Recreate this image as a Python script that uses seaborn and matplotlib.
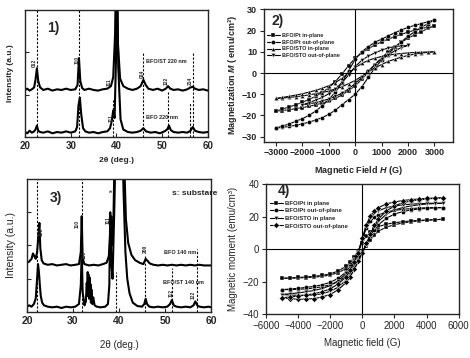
import matplotlib
matplotlib.use("Agg")
import matplotlib.pyplot as plt
import seaborn as sns
import pandas as pd

# ---------------- data: XRD (intensity in a.u., 0-100 scale) ----------------
tt_1_top = [20, 20.5, 21, 21.5, 22, 22.3, 22.6, 22.9, 23.3, 24, 25, 26, 27, 28, 29, 30, 31, 31.5, 31.8, 32.1,
            32.5, 33, 34, 35, 36, 37, 38, 38.8, 39.3, 39.7, 40.0, 40.3, 40.8, 41.5, 42.5, 43.5, 44.5, 45.3, 45.9, 46.4,
            47, 48, 49, 50, 50.8, 51.3, 51.8, 52.5, 53.5, 54.5, 55.5, 56.2, 56.7, 57.2, 58, 59, 60]
int_1_top = [37, 38, 36.5, 37.5, 39, 45, 54, 44, 39, 37, 38, 36.5, 37.5, 37, 38, 37, 37.5, 41, 62, 44,
             38.5, 37, 38, 37, 36.5, 37.5, 38, 40, 47, 80, 150, 75, 46, 40, 38, 37, 38, 40, 45, 41,
             38, 37, 38, 36.5, 38, 40, 38, 37, 37.5, 36.5, 37.5, 39, 39.5, 38, 37, 37.5, 36.5]

tt_1_bot = [20, 20.5, 21, 21.5, 22, 22.3, 22.6, 22.9, 23.3, 24, 25, 26, 27, 28, 29, 30, 31, 31.4, 31.7, 32.0,
            32.3, 32.7, 33.2, 34, 35, 36, 37, 38, 38.6, 39.0, 39.3, 39.6, 39.9, 40.1, 40.4, 40.9, 41.5, 42.5, 43.5, 44.5,
            45.3, 45.9, 46.5, 47.5, 48.5, 49.5, 50.5, 51.1, 51.5, 51.9, 52.5, 53.5, 54.5, 55.5, 56.2, 56.7, 57.2, 58, 59, 60]
int_1_bot = [4, 3, 5, 3.5, 4.5, 6, 9, 5, 4, 3.5, 4.5, 3, 4, 3.5, 4.5, 3.5, 4.5, 8, 25, 31,
             18, 7, 4.5, 3.5, 4, 3, 4, 4.5, 7, 13, 21, 15, 60, 150, 55, 14, 6, 4, 3.5, 4,
             5, 7, 4.5, 3.5, 4, 3, 4.5, 6, 9, 5.5, 4, 3.5, 4, 3.5, 5, 8, 5, 4, 3.5, 4]

tt_3_top = [20, 20.5, 21, 21.3, 21.6, 21.9, 22.2, 22.5, 22.7, 22.9, 23.2, 23.6, 24.5, 25.5, 26.5, 27.5, 28.5, 29.5,
            30.5, 31.3, 31.7, 31.9, 32.1, 32.5, 33.5, 34.5, 35.5, 36.5, 37.3, 37.8, 38.1, 38.3, 38.5, 38.8, 39.2,
            39.6, 40.0, 40.5, 41.0, 41.5, 42.0, 42.7, 43.5, 44.5, 45.3, 45.8, 46.2, 46.7, 47.5, 48.5, 49.5, 50.5,
            51.5, 52.5, 53.5, 54.5, 55.5, 56.5, 57.5, 58.5, 60]
int_3_top = [37, 38, 40, 44, 42, 40, 45, 58, 67, 48, 39, 36.5, 35.5, 36, 35, 35.5, 36, 35,
             35.5, 36, 45, 72, 40, 36, 35, 35.5, 35, 36, 37, 42, 60, 72, 50, 70, 150,
             150, 150, 150, 130, 70, 52, 43, 39, 37, 36, 40, 38.5, 36.5, 35.5, 35, 35.5, 35,
             35.5, 35, 35.5, 35, 35.5, 35, 35.5, 35, 35]

tt_3_bot = [20, 20.5, 21, 21.5, 21.9, 22.2, 22.4, 22.6, 22.8, 23.0, 23.3, 23.7, 24.5, 25.5, 26.5, 27.5, 28.5,
            29.5, 30.5, 31.3, 31.7, 31.9, 32.1, 32.5, 32.8, 33.0, 33.1, 33.2, 33.3, 33.4, 33.5, 33.6, 33.7, 33.8,
            33.9, 34.0, 34.2, 34.4, 34.7, 35.2, 36, 37, 37.6, 37.9, 38.1, 38.3, 38.6, 39.0, 39.4, 39.8, 40.2, 40.6,
            41.0, 41.4, 41.8, 42.3, 43, 44, 45, 45.5, 45.8, 46.1, 46.6, 47.5, 48.5, 49.5, 50.5, 51.1, 51.5, 51.9,
            52.5, 53.5, 54.5, 55.5, 56.2, 56.6, 57.0, 57.5, 58.5, 59.5, 60]
int_3_bot = [4, 5, 4, 6, 10, 25, 36, 30, 20, 12, 7, 5, 4, 3.5, 4, 3, 4,
             3.5, 4, 6, 20, 45, 15, 5, 8, 22, 12, 30, 14, 28, 10, 26, 11, 21,
             7, 17, 6, 11, 5, 4, 3.5, 4, 6, 20, 75, 40, 25, 80, 150, 150, 150, 150,
             90, 45, 25, 14, 7, 4.5, 4, 6, 10, 6, 4, 3.5, 4, 3.5, 4, 6, 9, 5,
             4, 3.5, 4, 3.5, 5, 8, 5, 4, 3.5, 4, 3.5]

peaks_1 = [22.6, 31.9, 39.3, 45.8, 51.3, 56.2, 56.8]
peaks_3 = [22.2, 31.9, 39.3, 45.7, 51.5, 57.0]

# ---------------- data: M-H loops ----------------
H_2 = [-3000, -2750, -2500, -2250, -2000, -1750, -1500, -1250, -1000, -750, -500, -250, 0,
       250, 500, 750, 1000, 1250, 1500, 1750, 2000, 2250, 2500, 2750, 3000]
H_2_short = [-2000, -1750, -1500, -1250, -1000, -750, -500, -250, 0, 250, 500, 750, 1000, 1250, 1500, 1750, 2000]

pt_in_2_low = [-18, -17.7, -17.3, -16.8, -16.3, -15.7, -15, -14.2, -13.2, -12, -10.3, -8.3, -6,
               -3, 0.5, 4, 7.2, 10, 12.5, 14.5, 16.5, 18, 19.5, 21, 22]
pt_in_2_up = [-18, -17, -16, -15, -13.8, -12.5, -11, -9.2, -7, -4, -0.5, 3.5, 7,
              9.5, 11.5, 13.2, 14.7, 16, 17.2, 18.3, 19.3, 20.2, 21, 21.6, 22]
pt_out_2_low = [-26, -25.6, -25.2, -24.6, -24, -23.2, -22.2, -21, -19.5, -17.5, -15, -12.5, -10,
                -6.5, -2, 2.5, 6, 9, 12, 14.8, 17.3, 19.5, 21.5, 23.3, 25]
pt_out_2_up = [-26, -25, -24, -22.8, -21.5, -20, -18, -15.5, -12.5, -9, -4.5, 1, 6.5,
               10, 12.5, 14.5, 16, 17.5, 19, 20.3, 21.5, 22.5, 23.3, 24.2, 25]
sto_in_2_low = [-12, -11.8, -11.5, -11.2, -10.8, -10.3, -9.8, -9.2, -8.5, -7.5, -6.5, -5, -3.5,
                -1.5, 0.5, 2.5, 4, 5.5, 6.5, 7.5, 8.3, 8.9, 9.4, 9.8, 10]
sto_in_2_up = [-12, -11.5, -11, -10.4, -9.8, -9, -8.2, -7.2, -6, -4.5, -2.5, 0, 2.5,
               4.5, 6, 7, 7.8, 8.4, 8.9, 9.2, 9.5, 9.7, 9.8, 9.9, 10]
sto_out_2_low = [-15, -14.5, -14, -13.2, -12.2, -11, -9.5, -7.5, -5, -2, 1, 4, 6.5, 8.5, 10.5, 12, 13]
sto_out_2_up = [-15, -14, -12.8, -11.5, -9.8, -7.5, -4.5, -1, 3, 6, 8, 9.5, 10.8, 11.8, 12.5, 12.8, 13]

H_4 = [-5000, -4500, -4000, -3500, -3000, -2500, -2000, -1500, -1000, -750, -500, -250, 0,
       250, 500, 750, 1000, 1500, 2000, 2500, 3000, 3500, 4000, 4500, 5000]
pt_in_4_low = [-18, -18, -17.8, -17.6, -17.3, -16.8, -16, -14.5, -12, -10, -7.5, -4.5, -1.5,
               2, 5.5, 8.5, 11, 13.5, 15, 16, 16.8, 17.3, 17.7, 18, 18.3]
pt_in_4_up = [-18, -17.8, -17.5, -17.2, -16.8, -16.2, -15.3, -13.5, -10.5, -8, -5, -1, 4,
              8, 10.5, 12.5, 13.8, 15.3, 16.2, 16.8, 17.3, 17.6, 17.9, 18.1, 18.3]
pt_out_4_low = [-25, -25, -24.8, -24.5, -24, -23.2, -22, -20, -16.5, -13.5, -10, -6, -2,
                3, 8, 12, 15, 19, 21.5, 23, 24, 24.6, 25, 25.3, 25.5]
pt_out_4_up = [-25, -24.6, -24.2, -23.6, -23, -22, -20.5, -18, -14, -10.5, -6, -1, 6,
               13, 17, 19.5, 21, 22.8, 23.8, 24.4, 24.9, 25.2, 25.4, 25.5, 25.5]
sto_in_4_low = [-28, -28.3, -28.5, -28.5, -28.3, -27.5, -26, -23.5, -19, -15.5, -11, -6.5, -2,
                3, 8.5, 13.5, 17, 21.5, 24, 25.5, 26.5, 27.2, 27.7, 28, 28.2]
sto_in_4_up = [-28, -27.5, -27, -26.3, -25.5, -24.3, -22.5, -19.5, -15, -11.5, -7, -2, 6,
               14, 19, 22, 23.5, 25.5, 26.5, 27.2, 27.6, 27.9, 28.1, 28.2, 28.2]
sto_out_4_low = [-30, -30.5, -31, -30.8, -30.5, -29.5, -28, -25, -20.5, -17, -12.5, -7.5, -2.5,
                 3.5, 9, 14.5, 18.5, 23.5, 26.5, 28.5, 29.5, 30.3, 30.8, 31.2, 31.5]
sto_out_4_up = [-30, -29.5, -29, -28.3, -27.5, -26.3, -24.5, -21.5, -17, -13, -8, -2.5, 7,
                15, 20.5, 23.5, 25.5, 27.8, 29, 29.8, 30.4, 30.8, 31.2, 31.4, 31.5]

names_2 = ["BFO/Pt in-plane", "BFO/Pt out-of-plane", "BFO/STO in-plane", "BFO/STO out-of-plane"]
names_4 = ["BFO/Pt in plane", "BFO/Pt out-of-plane", "BFO/STO in plane", "BFO/STO out-of-plane"]


def loop_frame(names, loops):
    rows = []
    for name, (H, low, up) in zip(names, loops):
        for h, m in zip(H, low):
            rows.append((name, "low", h, m))
        for h, m in zip(H[::-1], up[::-1]):
            rows.append((name, "up", h, m))
    return pd.DataFrame(rows, columns=["sample", "branch", "H", "M"])


df2 = loop_frame(names_2, [(H_2, pt_in_2_low, pt_in_2_up), (H_2, pt_out_2_low, pt_out_2_up),
                           (H_2, sto_in_2_low, sto_in_2_up), (H_2_short, sto_out_2_low, sto_out_2_up)])
df4 = loop_frame(names_4, [(H_4, pt_in_4_low, pt_in_4_up), (H_4, pt_out_4_low, pt_out_4_up),
                           (H_4, sto_in_4_low, sto_in_4_up), (H_4, sto_out_4_low, sto_out_4_up)])

# ---------------- style ----------------
sns.set_style("ticks")
plt.rcParams["font.family"] = ["Liberation Sans", "DejaVu Sans"]
plt.rcParams["mathtext.fontset"] = "custom"
plt.rcParams["mathtext.it"] = "Liberation Sans:bold:italic"
plt.rcParams["axes.linewidth"] = 1.0

fig = plt.figure(figsize=(4.7, 3.58), dpi=100)
ax1 = fig.add_axes([0.0532, 0.617, 0.389, 0.356])
ax2 = fig.add_axes([0.5617, 0.6047, 0.402, 0.369])
ax3 = fig.add_axes([0.0574, 0.1285, 0.3915, 0.3715])
ax4 = fig.add_axes([0.566, 0.1229, 0.410, 0.363])


def bold_ticks(ax):
    for lbl in ax.get_xticklabels() + ax.get_yticklabels():
        lbl.set_fontweight("bold")


# ---- 1) XRD 220 nm ----
sns.lineplot(x=tt_1_top, y=int_1_top, ax=ax1, color="black", lw=1.5, estimator=None, sort=False)
sns.lineplot(x=tt_1_bot, y=int_1_bot, ax=ax1, color="black", lw=1.5, estimator=None, sort=False)
for x, top in zip(peaks_1, [1, 1, 0.29, 0.67, 0.36, 0.27, 0.67]):
    ax1.axvline(x, 0, top, color="black", ls=(0, (2, 1.5)), lw=0.8)
ax1.set_xlim(20, 60)
ax1.set_ylim(0, 100)
ax1.set_xticks([20, 30, 40, 50, 60])
ax1.set_yticks([33.3, 66.7])
ax1.set_yticklabels([])
ax1.tick_params(direction="in", length=3, labelsize=7, pad=3)
bold_ticks(ax1)
ax1.set_xlabel("2θ (deg.)", fontsize=6, fontweight="bold", labelpad=4)
ax1.set_ylabel("Intensity (a.u.)", fontsize=6, fontweight="bold", labelpad=5)
ax1.text(26.3, 86, "1)", fontsize=10, fontweight="bold", ha="center", va="center")
ax1.text(46.4, 59, "BFO/ST 220 nm", fontsize=4, fontweight="bold", va="center")
ax1.text(46.5, 15, "BFO 220 nm", fontsize=4, fontweight="bold", va="center")
for x, y, s in [(22.1, 55, "012"), (31.5, 57, "110"), (38.4, 40, "111"), (45.6, 46, "024"),
                (51.0, 41, "122"), (56.2, 41, "214"), (38.9, 12, "111")]:
    ax1.text(x, y, s, fontsize=3.5, fontweight="bold", rotation=90, ha="center", va="bottom")

# ---- 2) M-H loops ----
markers_2 = dict(zip(names_2, ["s", "o", "^", "v"]))
sns.lineplot(data=df2, x="H", y="M", hue="sample", style="sample", units="branch", estimator=None,
             sort=False, palette=["black"] * 4, markers=markers_2, dashes=False, ax=ax2,
             lw=0.8, markersize=3, markeredgewidth=0.3, markeredgecolor="white")
ax2.axhline(0, color="black", lw=0.8)
ax2.axvline(0, color="black", lw=0.8)
ax2.set_xlim(-3450, 3700)
ax2.set_ylim(-32.3, 30)
ax2.set_xticks([-3000, -2000, -1000, 0, 1000, 2000, 3000])
ax2.set_yticks([-30, -20, -10, 0, 10, 20, 30])
ax2.tick_params(direction="out", length=3, labelsize=6.5, pad=2)
bold_ticks(ax2)
ax2.set_xlabel("Magnetic Field $H$ (G)", fontsize=6.5, fontweight="bold", labelpad=5)
ax2.set_ylabel("Magnetization $M$ ( emu/cm³)", fontsize=6.5, fontweight="bold", labelpad=2)
ax2.text(-3150, 24.5, "2)", fontsize=10, fontweight="bold", ha="left", va="center")
h, l = ax2.get_legend_handles_labels()
keep = [i for i, s in enumerate(l) if s in names_2]
ax2.legend([h[i] for i in keep], [l[i] for i in keep], loc="upper left", bbox_to_anchor=(0.0, 0.85),
           frameon=False, prop={"size": 4, "weight": "bold"}, handlelength=2.2, labelspacing=0.35,
           borderaxespad=0.2, handletextpad=0.4)

# ---- 3) XRD 140 nm ----
sns.lineplot(x=tt_3_top, y=int_3_top, ax=ax3, color="black", lw=1.5, estimator=None, sort=False)
sns.lineplot(x=tt_3_bot, y=int_3_bot, ax=ax3, color="black", lw=1.5, estimator=None, sort=False)
for x, top in zip(peaks_3, [1, 1, 0.3, 0.42, 0.33, 0.47]):
    ax3.axvline(x, 0, top, color="black", ls=(0, (2, 1.5)), lw=0.8)
ax3.set_xlim(20, 60)
ax3.set_ylim(0, 100)
ax3.set_xticks([20, 30, 40, 50, 60])
ax3.set_yticks([25, 50, 75])
ax3.set_yticklabels([])
ax3.tick_params(direction="in", length=3, labelsize=7.5, pad=3)
bold_ticks(ax3)
ax3.set_xlabel("2θ (deg.)", fontsize=7, labelpad=10)
ax3.set_ylabel("Intensity (a.u.)", fontsize=7.5, labelpad=5)
ax3.text(26.3, 86, "3)", fontsize=10, fontweight="bold", ha="center", va="center")
ax3.text(51.5, 89, "s: substare", fontsize=6, fontweight="bold", va="center")
ax3.text(49.8, 45, "BFO 140 nm", fontsize=4, fontweight="bold", va="center")
ax3.text(49.6, 22, "BFO/ST 140 nm", fontsize=4, fontweight="bold", va="center")
for x, y, s in [(23.1, 57, "100"), (30.9, 63, "110"), (37.6, 66, "111"), (38.3, 90, "s"),
                (45.7, 44, "200"), (32.5, 40, "110"), (33.6, 27, "s"), (51.3, 11, "112"), (56.2, 10, "122")]:
    ax3.text(x, y, s, fontsize=3.5, fontweight="bold", rotation=90, ha="center", va="bottom")

# ---- 4) M-H loops ----
markers_4 = dict(zip(names_4, ["s", "o", "v", "D"]))
sns.lineplot(data=df4, x="H", y="M", hue="sample", style="sample", units="branch", estimator=None,
             sort=False, palette=["black"] * 4, markers=markers_4, dashes=False, ax=ax4,
             lw=0.8, markersize=3, markeredgewidth=0.3, markeredgecolor="white")
ax4.axhline(0, color="black", lw=0.8)
ax4.axvline(0, color="black", lw=0.8)
ax4.set_xlim(-6000, 6000)
ax4.set_ylim(-40, 40)
ax4.set_xticks([-6000, -4000, -2000, 0, 2000, 4000, 6000])
ax4.set_yticks([-40, -20, 0, 20, 40])
ax4.tick_params(direction="out", length=3, labelsize=7, pad=2)
ax4.set_xlabel("Magnetic field (G)", fontsize=7, labelpad=5)
ax4.set_ylabel("Magnetic moment (emu/cm³)", fontsize=7, labelpad=3)
ax4.text(-5300, 35.5, "4)", fontsize=10, fontweight="bold", ha="left", va="center")
h, l = ax4.get_legend_handles_labels()
keep = [i for i, s in enumerate(l) if s in names_4]
ax4.legend([h[i] for i in keep], [l[i] for i in keep], loc="upper left", bbox_to_anchor=(0.0, 0.9),
           frameon=False, prop={"size": 4.3, "weight": "bold"}, handlelength=2.2, labelspacing=0.4,
           borderaxespad=0.2, handletextpad=0.4)

fig.savefig("out.png", dpi=100)
